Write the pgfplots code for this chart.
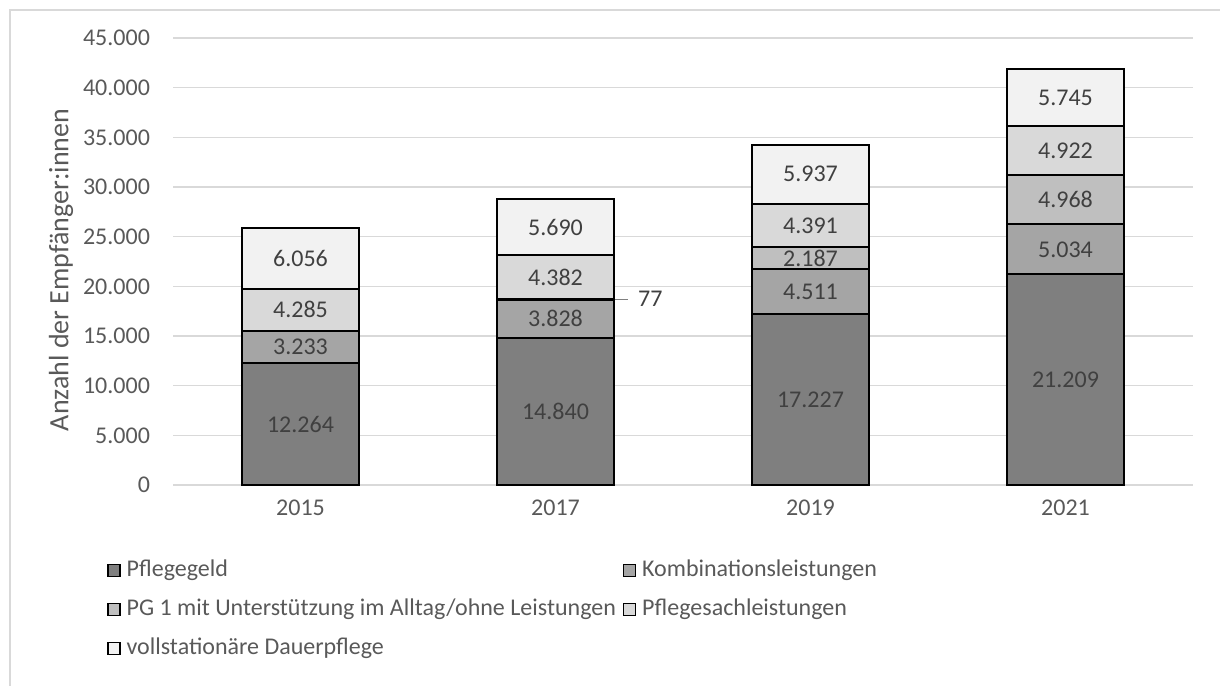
\documentclass[border=0pt]{standalone}
\usepackage{fontspec}
\setmainfont{Carlito}
\usepackage{pgfplots}
\pgfplotsset{compat=1.18}

\definecolor{pgeld}{HTML}{7F7F7F}
\definecolor{kombi}{HTML}{A5A5A5}
\definecolor{pgeins}{HTML}{BFBFBF}
\definecolor{sach}{HTML}{D9D9D9}
\definecolor{stat}{HTML}{F2F2F2}
\definecolor{txt}{HTML}{404040}
\definecolor{ticktxt}{HTML}{595959}
\definecolor{gridc}{HTML}{D9D9D9}

% label only segments big enough to hold it (the 77 is set beside the bar)
\newcommand\seglabel{%
  \begingroup
  \pgfkeys{/pgf/fpu=true}%
  \pgfmathparse{\pgfplotspointmeta<500 ? 0 : 1}%
  \pgfmathfloattoint{\pgfmathresult}%
  \ifnum\pgfmathresult=1 \pgfkeys{/pgf/fpu=false}\pgfmathprintnumber{\pgfplotspointmeta}\fi
  \endgroup}

\pgfplotsset{
    lg/.style={legend image code/.code={\draw[##1, line width=0.6bp] (0bp,-3bp) rectangle (6bp,3bp);}},
}

\begin{document}
\begin{tikzpicture}[font=\fontsize{12bp}{14bp}\selectfont]
    \useasboundingbox (-86.5bp,-100.5bp) rectangle (523.5bp,242.5bp);
    \draw[gridc, line width=0.75bp] (-81.5bp,-101bp) -- (-81.5bp,237.5bp) -- (524bp,237.5bp);
    \begin{axis}[
        at={(0,0)}, anchor=south west,
        scale only axis,
        width=510bp, height=223.5bp,
        ybar stacked,
        bar width=0.455,
        xmin=-0.5, xmax=3.5,
        ymin=0, ymax=45000,
        ytick distance=5000,
        scaled y ticks=false,
        xtick={0,1,2,3},
        xticklabels={2015,2017,2019,2021},
        /pgf/number format/.cd, 1000 sep={.}, assume math mode=true,
        /pgfplots/.cd,
        major tick length=0pt,
        axis x line*=bottom,
        axis y line*=left,
        y axis line style={draw=none},
        x axis line style={gridc, line width=0.75bp},
        ymajorgrids,
        grid style={gridc, line width=0.75bp},
        ticklabel style={text=ticktxt},
        yticklabel style={xshift=-8bp},
        xticklabel style={yshift=-4bp},
        ylabel={Anzahl der Empfänger:innen},
        ylabel style={at={(axis description cs:-0.1098,0.481)}, anchor=center, text=ticktxt,
            font=\fontsize{14bp}{16bp}\selectfont},
        legend columns=2,
        legend cell align=left,
        legend style={
            at={(axis description cs:-0.0647,-0.1633)}, anchor=north west,
            draw=none, fill=none, inner sep=0pt, text=ticktxt,
            nodes={inner sep=0pt, text height=9bp, text depth=3bp},
            row sep=7.5bp,
            /tikz/every odd column/.append style={column sep=3bp},
            /tikz/every even column/.append style={column sep=3.5bp},
        },
        every axis plot/.append style={draw=black, line width=1bp},
        nodes near coords={\seglabel},
        every node near coord/.append style={anchor=center, text=txt},
    ]
    \addplot[fill=pgeld, lg] coordinates {(0,12264) (1,14840) (2,17227) (3,21209)};
    \addplot[fill=kombi, lg] coordinates {(0,3233) (1,3828) (2,4511) (3,5034)};
    \addplot[fill=pgeins, lg] coordinates {(0,0) (1,77) (2,2187) (3,4968)};
    \addplot[fill=sach, lg] coordinates {(0,4285) (1,4382) (2,4391) (3,4922)};
    \addplot[fill=stat, lg] coordinates {(0,6056) (1,5690) (2,5937) (3,5745)};
    \legend{Pflegegeld, Kombinationsleistungen, PG 1 mit Unterstützung im Alltag/ohne Leistungen, Pflegesachleistungen, vollstationäre Dauerpflege}
    \draw[gray, line width=0.6bp] (axis cs:1.2275,18706) -- ([xshift=7bp]axis cs:1.2275,18706)
        node[right, xshift=4bp, inner sep=1bp, text=txt] {77};
    \end{axis}
\end{tikzpicture}
\end{document}
